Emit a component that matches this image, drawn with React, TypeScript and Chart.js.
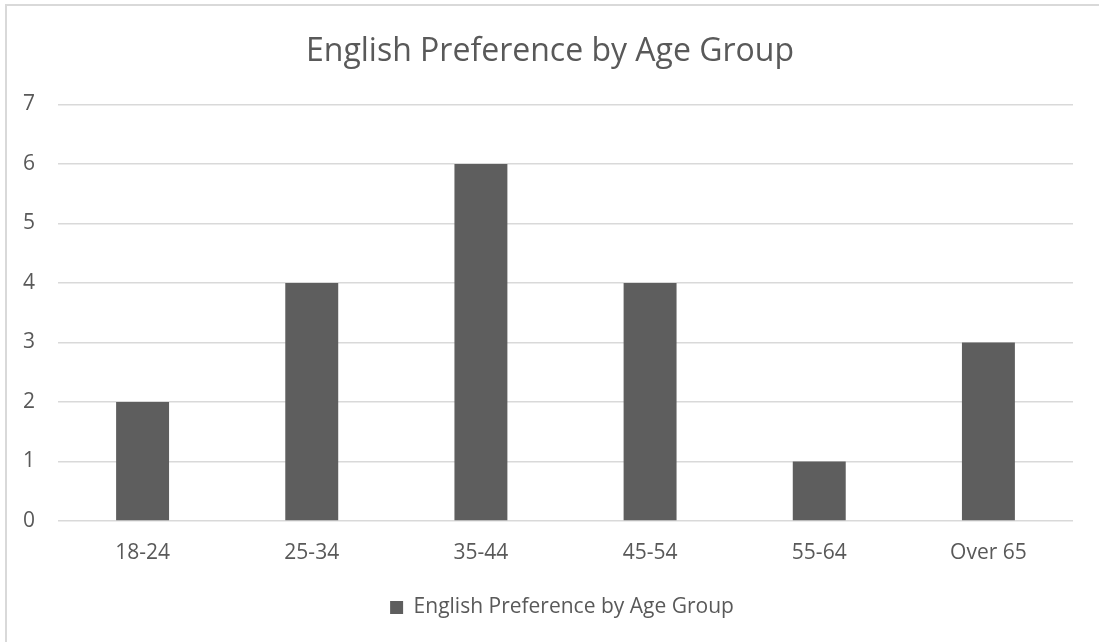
import React, { useEffect, useRef } from "react";
import { Chart, registerables } from "chart.js";

Chart.register(...registerables);

const chartTitle = "English Preference by Age Group";
const seriesLabel = "English Preference by Age Group";
const ageGroups = ["18-24", "25-34", "35-44", "45-54", "55-64", "Over 65"];
const preferenceCounts = [2, 4, 6, 4, 1, 3];
const yTicks = [0, 1, 2, 3, 4, 5, 6, 7];

const TEXT = "#595959";
const GRID = "#d9d9d9";
const BAR = "#5e5e5e";
const FONT = "'Open Sans', sans-serif";

// The title and legend are centred on the whole chart frame rather than the
// plot area, so nudge their boxes to the right before they are drawn.
const frameCentering = {
  id: "frameCentering",
  beforeDraw(chart: any) {
    if (chart.titleBlock) chart.titleBlock.left = 27;
    if (chart.legend) chart.legend.left = 51;
  },
};

export default function App() {
  const canvasRef = useRef<HTMLCanvasElement | null>(null);

  useEffect(() => {
    const canvas = canvasRef.current;
    if (!canvas) return;
    const chart = new Chart(canvas, {
      type: "bar",
      data: {
        labels: ageGroups,
        datasets: [
          {
            label: seriesLabel,
            data: preferenceCounts,
            backgroundColor: BAR,
            borderWidth: 0,
            barPercentage: 0.313,
            categoryPercentage: 1,
          },
        ],
      },
      options: {
        animation: false,
        responsive: false,
        maintainAspectRatio: false,
        layout: { padding: { top: 0, left: 0, right: 26, bottom: 14 } },
        plugins: {
          title: {
            display: true,
            text: chartTitle,
            color: TEXT,
            font: { family: FONT, size: 32, weight: "normal" },
            padding: { top: 33, bottom: 33 },
          },
          legend: {
            display: true,
            position: "bottom",
            labels: {
              color: TEXT,
              font: { family: FONT, size: 21 },
              boxWidth: 13,
              boxHeight: 13,
              padding: 10,
            },
          },
          tooltip: { enabled: false },
        },
        scales: {
          x: {
            grid: { display: false, drawTicks: false },
            border: { display: false },
            ticks: {
              color: TEXT,
              font: { family: FONT, size: 21 },
              padding: 19,
              maxRotation: 0,
            },
            afterFit: (scale: any) => {
              scale.height = 66;
            },
          },
          y: {
            min: 0,
            max: yTicks[yTicks.length - 1],
            grid: { color: GRID, lineWidth: 1.5, drawTicks: false },
            border: { display: false },
            ticks: {
              stepSize: 1,
              color: TEXT,
              font: { family: FONT, size: 21 },
              padding: 23,
            },
            afterFit: (scale: any) => {
              scale.width = 58;
            },
          },
        },
      },
      plugins: [frameCentering],
    });
    return () => chart.destroy();
  }, []);

  return (
    <div style={{ position: "fixed", left: 0, top: 0, width: 1099, height: 642, background: "#fff", overflow: "hidden" }}>
      <div
        style={{
          position: "absolute",
          left: 5,
          top: 4,
          width: 1200,
          height: 700,
          borderTop: `2px solid ${GRID}`,
          borderLeft: `2px solid ${GRID}`,
        }}
      />
      <canvas ref={canvasRef} width={1099} height={642} style={{ position: "absolute", left: 0, top: 0 }} />
    </div>
  );
}
